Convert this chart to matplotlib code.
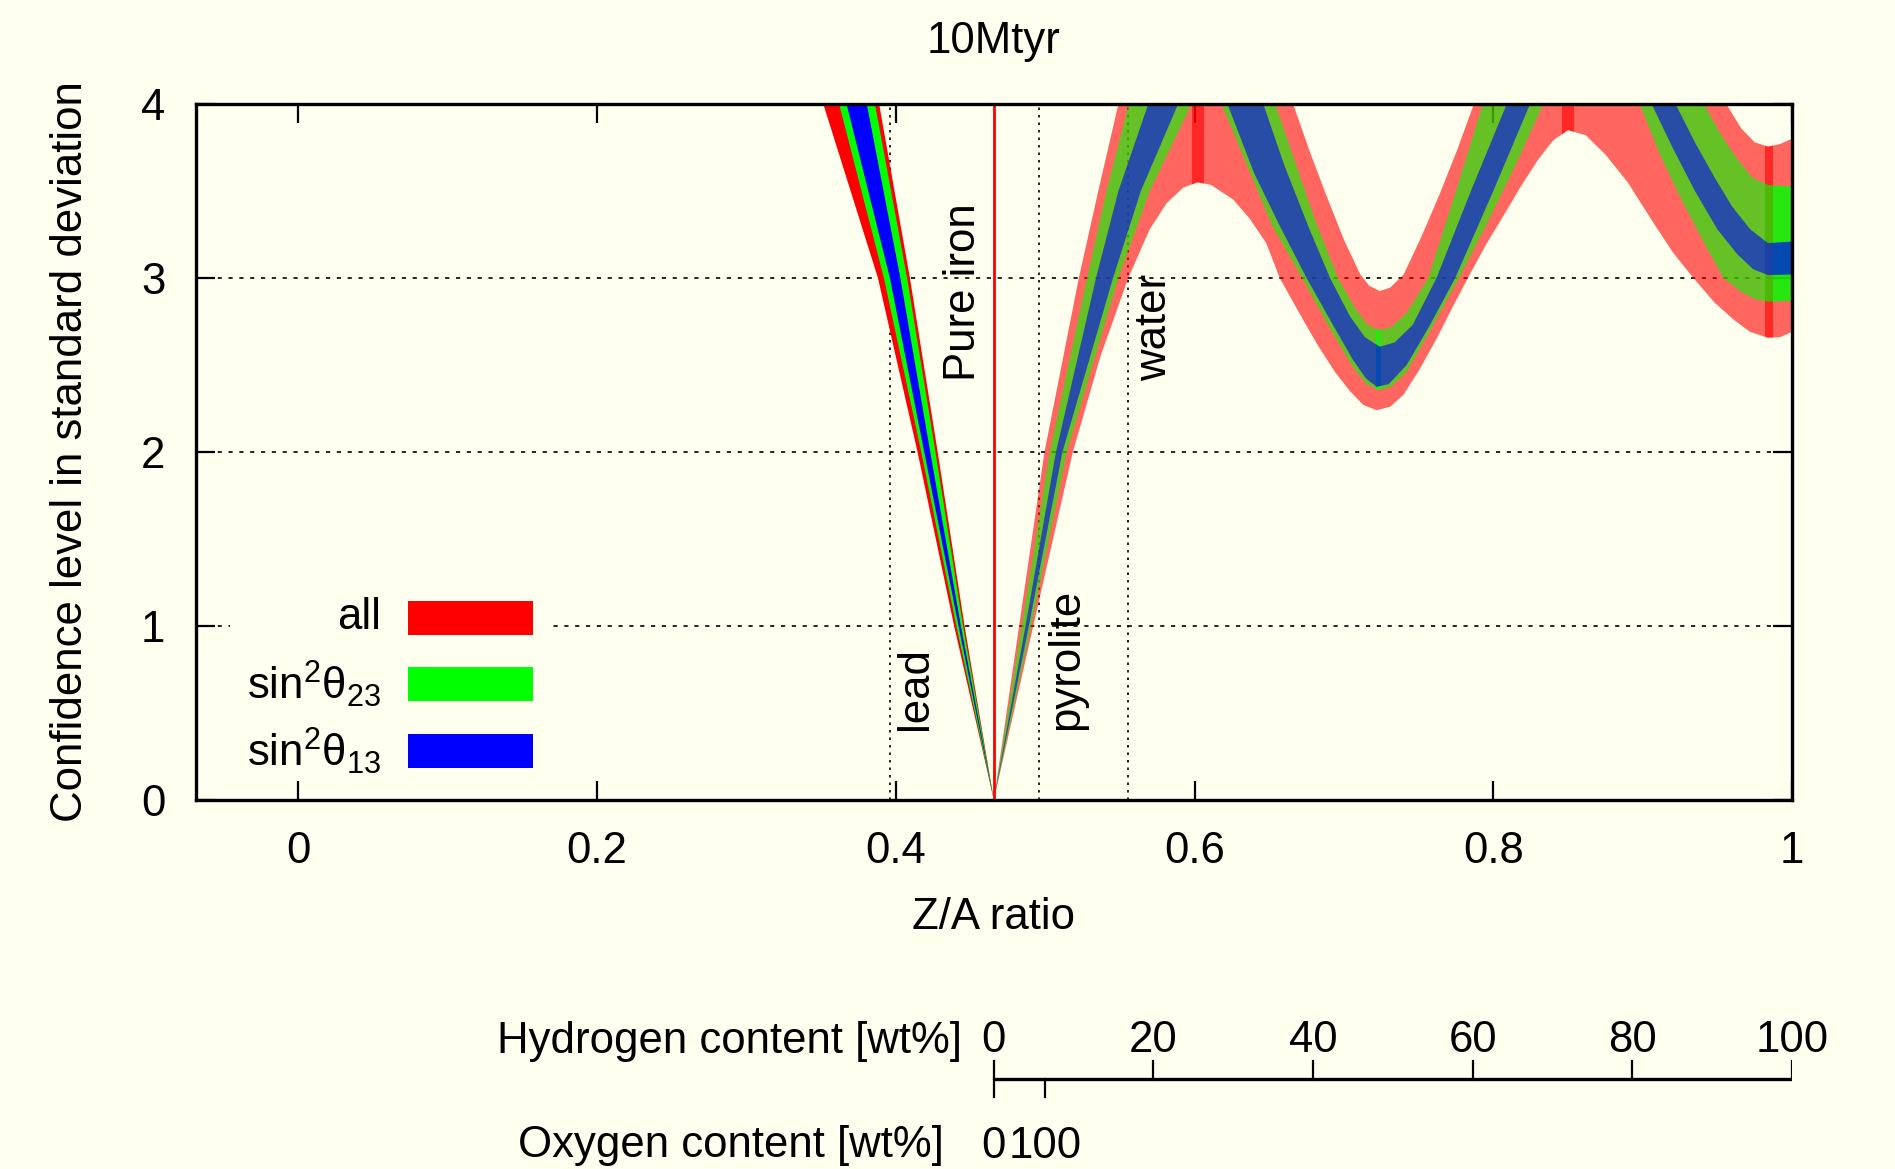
import numpy as np
import matplotlib
matplotlib.use("Agg")
import matplotlib.pyplot as plt
from matplotlib.patches import Rectangle

plt.rcParams['font.family'] = ['Liberation Sans', 'DejaVu Sans']
plt.rcParams['mathtext.default'] = 'regular'

BG = '#fffff0'
FS = 31.5

# ---- reference compositions (Z/A) ----
za_iron = 0.4656
za_lead = 0.3958
za_pyrolite = 0.496
za_water = 0.5556
za_oxygen = 0.5
za_hydrogen = 1.0

# ---- left branch (Z/A below iron): X position of band edges at given sigma ----
left_sigma = [0.0, 1.0, 2.0, 3.0, 4.0, 4.4]
left_red_outer = [0.4656, 0.4390, 0.4145, 0.3880, 0.3514, 0.336]
left_red_inner = [0.4656, 0.4460, 0.4280, 0.4094, 0.3888, 0.381]
left_green_outer = [0.4656, 0.4405, 0.4170, 0.3920, 0.3620, 0.350]
left_green_inner = [0.4656, 0.4450, 0.4265, 0.4075, 0.3860, 0.378]
left_blue_outer = [0.4656, 0.4420, 0.4190, 0.3960, 0.3670, 0.356]
left_blue_inner = [0.4656, 0.4435, 0.4230, 0.4030, 0.3805, 0.372]

# ---- right branch (Z/A above iron): band edges as (Z/A, sigma) ----
red_hi_x = [0.4656, 0.4825, 0.4995, 0.5225, 0.5355, 0.549, 0.565, 0.59, 0.615, 0.64,
            0.666, 0.677, 0.688, 0.700, 0.711, 0.717, 0.724, 0.731, 0.740, 0.752,
            0.764, 0.776, 0.787, 0.80, 0.84, 0.88, 0.92, 0.945, 0.956, 0.966,
            0.975, 0.984, 0.992, 1.0]
red_hi_y = [0.0, 1.0, 2.0, 3.0, 3.5, 4.0, 4.45, 4.75, 4.8, 4.5,
            4.0, 3.73, 3.48, 3.22, 3.02, 2.955, 2.925, 2.945, 3.02, 3.24,
            3.48, 3.74, 4.0, 4.3, 4.8, 4.9, 4.6, 4.22, 4.0, 3.86,
            3.78, 3.755, 3.77, 3.80]

red_lo_x = [0.4656, 0.492, 0.5185, 0.537, 0.5556, 0.570, 0.5813, 0.5925, 0.602, 0.611,
            0.626, 0.637, 0.648, 0.657, 0.670, 0.682, 0.694, 0.704, 0.713, 0.722,
            0.731, 0.740, 0.751, 0.762, 0.772, 0.783, 0.795, 0.807, 0.818, 0.830,
            0.840, 0.850, 0.862, 0.875, 0.890, 0.907, 0.920, 0.934, 0.948, 0.961,
            0.972, 0.984, 0.992, 1.0]
red_lo_y = [0.0, 1.0, 2.0, 2.55, 3.0, 3.28, 3.43, 3.52, 3.55, 3.535,
            3.45, 3.34, 3.20, 3.0, 2.80, 2.62, 2.46, 2.35, 2.27, 2.24,
            2.26, 2.33, 2.48, 2.65, 2.82, 3.0, 3.19, 3.36, 3.52, 3.68,
            3.79, 3.85, 3.82, 3.71, 3.55, 3.32, 3.15, 3.0, 2.86, 2.76,
            2.69, 2.657, 2.66, 2.69]

green_hi_x = [0.4656, 0.4843, 0.503, 0.528, 0.541, 0.556, 0.58, 0.61, 0.635, 0.654,
              0.666, 0.680, 0.696, 0.708, 0.716, 0.724, 0.732, 0.742, 0.7565, 0.775,
              0.793, 0.82, 0.87, 0.91, 0.941, 0.952, 0.962, 0.973, 0.984, 1.0]
green_hi_y = [0.0, 1.0, 2.0, 3.0, 3.5, 4.0, 4.5, 4.6, 4.4, 4.0,
              3.7, 3.35, 3.0, 2.82, 2.73, 2.70, 2.72, 2.80, 3.0, 3.5,
              4.0, 4.5, 4.8, 4.55, 4.0, 3.83, 3.70, 3.58, 3.534, 3.525]

green_lo_x = [0.4656, 0.4905, 0.5145, 0.549, 0.570, 0.598, 0.608, 0.618, 0.635, 0.652,
              0.672, 0.690, 0.705, 0.715, 0.723, 0.731, 0.742, 0.758, 0.777, 0.795,
              0.815, 0.8335, 0.86, 0.88, 0.898, 0.912, 0.926, 0.940, 0.954, 0.966,
              0.976, 0.984, 1.0]
green_lo_y = [0.0, 1.0, 2.0, 3.0, 3.5, 4.0, 4.05, 4.0, 3.65, 3.3,
              3.0, 2.72, 2.50, 2.39, 2.356, 2.37, 2.46, 2.70, 3.0, 3.3,
              3.65, 4.0, 4.2, 4.2, 4.0, 3.7, 3.45, 3.22, 3.0, 2.92,
              2.875, 2.864, 2.87]

blue_hi_x = [0.4656, 0.4868, 0.5072, 0.534, 0.549, 0.569, 0.59, 0.615, 0.635, 0.646,
             0.660, 0.676, 0.6907, 0.704, 0.714, 0.724, 0.734, 0.746, 0.762, 0.785,
             0.809, 0.84, 0.87, 0.90, 0.922, 0.935, 0.948, 0.960, 0.972, 0.984, 1.0]
blue_hi_y = [0.0, 1.0, 2.0, 3.0, 3.5, 4.0, 4.3, 4.35, 4.2, 4.0,
             3.65, 3.3, 3.0, 2.78, 2.66, 2.605, 2.63, 2.73, 3.0, 3.5,
             4.0, 4.45, 4.5, 4.3, 4.0, 3.78, 3.58, 3.41, 3.28, 3.20, 3.21]

blue_lo_x = [0.4656, 0.489, 0.5115, 0.5454, 0.564, 0.589, 0.605, 0.622, 0.640, 0.657,
             0.675, 0.692, 0.706, 0.715, 0.722, 0.730, 0.742, 0.757, 0.7745, 0.800,
             0.8246, 0.85, 0.875, 0.906, 0.920, 0.935, 0.950, 0.963, 0.974, 0.984, 1.0]
blue_lo_y = [0.0, 1.0, 2.0, 3.0, 3.5, 4.0, 4.1, 4.0, 3.6, 3.3,
             3.0, 2.74, 2.53, 2.42, 2.375, 2.39, 2.50, 2.72, 3.0, 3.5,
             4.0, 4.25, 4.25, 4.0, 3.75, 3.5, 3.28, 3.14, 3.05, 3.017, 3.02]

# narrow Z/A windows where the band fill is laid down twice, and which bands
overdraw_windows = [(0.598, 0.606, 'r'), (0.7215, 0.7245, 'gb'),
                    (0.846, 0.854, 'r'), (0.982, 0.987, 'rgb'), (0.987, 1.0, 'gb')]

# ---- axis ticks ----
x_ticks = [0, 0.2, 0.4, 0.6, 0.8, 1]
x_tick_labels = ['0', '0.2', '0.4', '0.6', '0.8', '1']
y_ticks = [0, 1, 2, 3, 4]
hydrogen_ticks = [0, 20, 40, 60, 80, 100]
oxygen_ticks = [0, 100]

W, H = 1895, 1169
fig = plt.figure(figsize=(W / 100, H / 100), dpi=100, facecolor=BG)
ax = fig.add_axes([196 / W, 1 - 800 / H, 1596 / W, 696 / H], facecolor=BG)
ax.set_xlim(-0.0686, 1.0)
ax.set_ylim(0, 4)
y_top = ax.get_ylim()[1]


def band_polygon(xa, ya, xb, yb):
    return np.r_[xa, xb[::-1]], np.r_[ya, yb[::-1]]


# left branch: solid bands
ls = np.array(left_sigma)
for outer, inner, col in [(left_red_outer, left_red_inner, '#ff0000'),
                          (left_green_outer, left_green_inner, '#00ff00'),
                          (left_blue_outer, left_blue_inner, '#0000ff')]:
    px, py = band_polygon(np.array(outer), ls, np.array(inner), ls)
    ax.fill(px, py, color=col, lw=0, zorder=2)

# right branch: translucent stacked bands
right_bands = {
    'r': (red_lo_x, red_lo_y, red_hi_x, red_hi_y, '#ff0000'),
    'g': (green_lo_x, green_lo_y, green_hi_x, green_hi_y, '#00ff00'),
    'b': (blue_lo_x, blue_lo_y, blue_hi_x, blue_hi_y, '#0000ff'),
}
for key in 'rgb':
    xl, yl, xh, yh, col = right_bands[key]
    px, py = band_polygon(np.array(xl), np.array(yl), np.array(xh), np.array(yh))
    ax.fill(px, py, color=col, alpha=0.6, lw=0, zorder=2)

for x0, x1, keys in overdraw_windows:
    for key in keys:
        xl, yl, xh, yh, col = right_bands[key]
        px, py = band_polygon(np.array(xl), np.array(yl), np.array(xh), np.array(yh))
        clip = Rectangle((x0, 0), x1 - x0, y_top, transform=ax.transData)
        for poly in ax.fill(px, py, color=col, alpha=0.6, lw=0, zorder=2.1):
            poly.set_clip_path(clip)

# composition markers
ax.axvline(za_iron, color='#ff0000', lw=2, zorder=3)
for xv in (za_lead, za_pyrolite, za_water):
    ax.axvline(xv, color='black', lw=1.2, ls=(0, (1.5, 3)), zorder=1)
for yv in (1, 2, 3):
    ax.axhline(yv, color='black', lw=1.2, ls=(0, (2.5, 4)), zorder=1)

ax.text(0.445, 2.41, 'Pure iron', rotation=90, ha='center', va='bottom', fontsize=FS, zorder=4)
ax.text(0.413, 0.40, 'lead', rotation=90, ha='center', va='bottom', fontsize=FS, zorder=4)
ax.text(0.514, 0.40, 'pyrolite', rotation=90, ha='center', va='bottom', fontsize=FS, zorder=4)
ax.text(0.573, 2.41, 'water', rotation=90, ha='center', va='bottom', fontsize=FS, zorder=4)

# key
ax.add_patch(Rectangle((0.021, 0.03), 0.2, 0.27, transform=ax.transAxes,
                       facecolor=BG, edgecolor='none', zorder=5))
key_labels = ['all', r'sin$^2θ_{23}$', r'sin$^2θ_{13}$']
key_colors = ['#ff0000', '#00ff00', '#0000ff']
key_rows = [0.2621, 0.1667, 0.0710]
for lab, col, yr in zip(key_labels, key_colors, key_rows):
    ax.add_patch(Rectangle((0.1331, yr - 0.0245), 0.078, 0.049, transform=ax.transAxes,
                           facecolor=col, edgecolor='none', zorder=6))
    ax.text(0.1157, yr, lab, transform=ax.transAxes, ha='right', va='center',
            fontsize=FS, zorder=6)

ax.set_xticks(x_ticks)
ax.set_xticklabels(x_tick_labels)
ax.set_yticks(y_ticks)
ax.tick_params(direction='in', length=14, width=1.6, labelsize=FS,
               top=True, right=True, pad=22)
ax.tick_params(axis='x', pad=22)
for sp in ax.spines.values():
    sp.set_linewidth(2.4)
    sp.set_zorder(7)

ax.set_xlabel('Z/A ratio', fontsize=FS, labelpad=18)
ax.set_ylabel('Confidence level in standard deviation', fontsize=FS, labelpad=36)
ax.set_title('10Mtyr', fontsize=FS, pad=37)

# composition scales below the plot (rows measured in pixels from the top)
sx = fig.add_axes([196 / W, 0, 1596 / W, 1], facecolor='none')
sx.set_xlim(ax.get_xlim())
sx.set_ylim(H, 0)
sx.axis('off')
line_row = 1079
sx.plot([za_iron, za_hydrogen], [line_row, line_row], color='black', lw=2.4,
        solid_capstyle='butt')
for h in hydrogen_ticks:
    xh = za_iron + h / 100 * (za_hydrogen - za_iron)
    sx.plot([xh, xh], [line_row, line_row - 18], color='black', lw=1.6)
    sx.text(xh, 1041, str(h), ha='center', va='center', fontsize=FS)
for o in oxygen_ticks:
    xo = za_iron + o / 100 * (za_oxygen - za_iron)
    sx.plot([xo, xo], [line_row, line_row + 18], color='black', lw=1.6)
    sx.text(xo, 1146, str(o), ha='center', va='center', fontsize=FS)
sx.text(za_iron - 0.0215, 1041, 'Hydrogen content [wt%]', ha='right', va='center', fontsize=FS)
sx.text(za_iron - 0.0335, 1146, 'Oxygen content [wt%]', ha='right', va='center', fontsize=FS)

fig.savefig('out.png', dpi=100, facecolor=BG)
